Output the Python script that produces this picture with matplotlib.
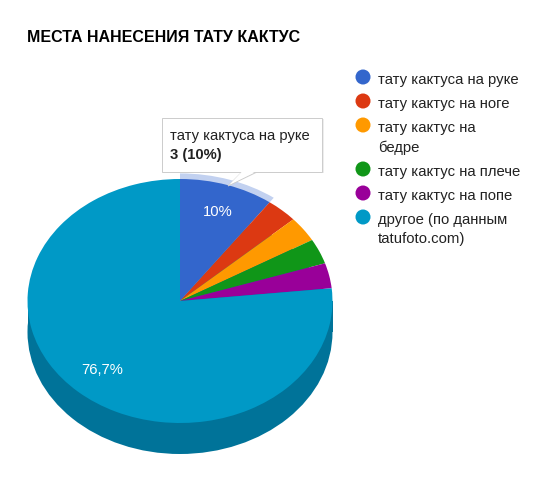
import matplotlib
matplotlib.use('Agg')
import matplotlib.pyplot as plt
from matplotlib.patches import Ellipse, Rectangle, Polygon

plt.rcParams['font.family'] = ['Liberation Sans', 'DejaVu Sans']

title = 'МЕСТА НАНЕСЕНИЯ ТАТУ КАКТУС'
labels = ['тату кактуса на руке', 'тату кактус на ноге', 'тату кактус на\nбедре',
          'тату кактус на плече', 'тату кактус на попе', 'другое (по данным\ntatufoto.com)']
values = [3, 1, 1, 1, 1, 23]
colors = ['#3366cc', '#dc3912', '#ff9900', '#109618', '#990099', '#0099c6']
side_color = '#007399'
band_color = '#c2d1f0'
legend_y = [77, 101, 125, 169, 193, 217]

W, H = 552, 482
cx, cy, rx, ry, depth = 180, 301, 152.5, 122, 31
total = sum(values)

fig = plt.figure(figsize=(W / 100, H / 100), dpi=100)

# 픽셀 좌표 축: 글자, 범례, 툴팁, 옆면
ax2 = fig.add_axes([0, 0, 1, 1], zorder=1)
ax2.set_xlim(0, W)
ax2.set_ylim(H, 0)
ax2.axis('off')

ax2.add_patch(Ellipse((cx, cy + depth), 2 * rx, 2 * ry, fc=side_color, ec='none'))
ax2.add_patch(Rectangle((cx - rx, cy), 2 * rx, depth, fc=side_color, ec='none'))

# 파이 축: y 스케일을 눌러서 타원으로 보이게 한다
ax = fig.add_axes([0, 0, 1, 1], zorder=2)
ax.patch.set_visible(False)
sy = rx / ry
band, _ = ax.pie(values, radius=rx + 7, center=(cx, (H - cy) * sy), startangle=90,
                 counterclock=False, colors=[band_color] + ['none'] * 5, frame=False)
ax.pie(values, radius=rx, center=(cx, (H - cy) * sy), startangle=90,
       counterclock=False, colors=colors, frame=False)
ax.set_aspect('auto')
ax.set_xlim(0, W)
ax.set_ylim(0, H * sy)
ax.axis('off')

# 글자와 툴팁은 맨 위 축에
ax3 = fig.add_axes([0, 0, 1, 1], zorder=3)
ax3.patch.set_visible(False)
ax3.set_xlim(0, W)
ax3.set_ylim(H, 0)
ax3.axis('off')

ax3.text(27, 37.5, title, fontsize=11.5, fontweight='bold', color='black', va='center', ha='left')

ax3.text(218, 211.5, f'{values[0] / total * 100:.0f}%', color='white', fontsize=10.6,
         ha='center', va='center')
ax3.text(102, 369.5, f'{values[5] / total * 100:.1f}%'.replace('.', ','), color='white',
         fontsize=10.6, ha='center', va='center')

# 범례
for lab, col, y in zip(labels, colors, legend_y):
    ax3.add_patch(Ellipse((363, y), 15, 15, fc=col, ec='none'))
    ax3.text(378, y - 4, lab, fontsize=10.7, color='#222222', va='top', ha='left', linespacing=1.45)

# 툴팁
ax3.add_patch(Rectangle((163, 119), 161, 54, fc='#dddddd', ec='none', alpha=0.5))
ax3.add_patch(Polygon([(242, 172), (228, 186), (257, 172)], closed=True, fc='white', ec='#cccccc', lw=0.7))
ax3.add_patch(Rectangle((162, 118), 160, 53.5, fc='white', ec='#cccccc', lw=0.7))
ax3.add_patch(Polygon([(242.5, 171), (229, 185), (256.5, 171)], closed=True, fc='white', ec='none'))
ax3.text(170, 136, labels[0], fontsize=10.6, color='#222222', va='center', ha='left')
ax3.text(170, 155.5, f'{values[0]} ({values[0] / total * 100:.0f}%)', fontsize=10.6,
         fontweight='bold', color='#222222', va='center', ha='left')

fig.savefig('out.png', dpi=100, facecolor='white')
